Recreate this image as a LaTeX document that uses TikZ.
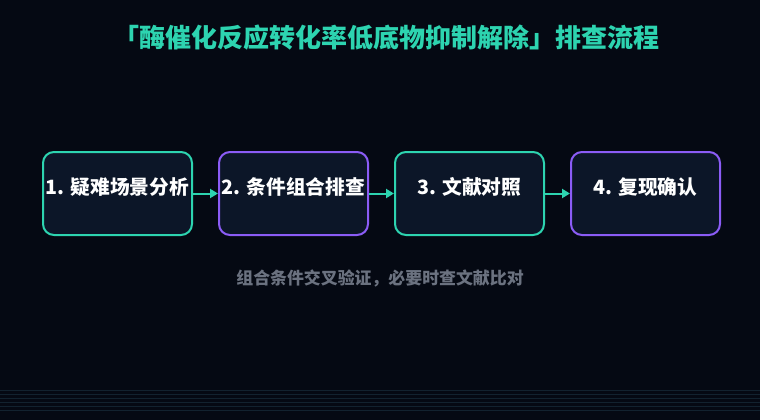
\documentclass[tikz,border=0pt]{standalone}
\usepackage{fontspec}
\newfontfamily\cjk{Noto Sans CJK SC}
\usetikzlibrary{arrows.meta}
\definecolor{bg}{HTML}{050913}
\definecolor{boxfill}{HTML}{0C1628}
\definecolor{teal}{HTML}{2DD4B0}
\definecolor{purp}{HTML}{8B5CF6}
\definecolor{subgray}{HTML}{6B7280}
\definecolor{gridline}{HTML}{12222F}
\tikzset{
  stepbox/.style={draw=#1, line width=2pt, fill=boxfill, rounded corners=11pt,
    minimum width=149pt, minimum height=83pt, inner sep=0pt,
    text=white, font=\cjk\bfseries\fontsize{19.7}{23}\selectfont,
    text height=14pt, text depth=12pt, anchor=north west},
  flow/.style={draw=teal, line width=2pt, -{Triangle[length=8pt,width=9pt]}},
  bgline/.style={draw=gridline, line width=0.7pt}
}
\begin{document}
\begin{tikzpicture}[x=1pt,y=-1pt]
\useasboundingbox (0,0) rectangle (760,420);
\fill[bg] (0,0) rectangle (760,420);
\foreach \yy in {390,394,...,410} {\draw[bgline] (0,\yy) -- (760,\yy);}
\node[text=teal, font=\cjk\bfseries\fontsize{26}{30}\selectfont] (title) at (386,38) {「酶催化反应转化率低底物抑制解除」排查流程};
\node[stepbox=teal] (s1) at (42,151) {1. 疑难场景分析};
\node[stepbox=purp] (s2) at (218,151) {2. 条件组合排查};
\node[stepbox=teal] (s3) at (394,151) {3. 文献对照};
\node[stepbox=purp] (s4) at (570,151) {4. 复现确认};
\draw[flow] (s1.east) -- (s2.west);
\draw[flow] (s2.east) -- (s3.west);
\draw[flow] (s3.east) -- (s4.west);
\node[text=subgray, font=\cjk\bfseries\fontsize{16.9}{20}\selectfont] (note) at (380,278) {组合条件交叉验证，必要时查文献比对};
\end{tikzpicture}
\end{document}
